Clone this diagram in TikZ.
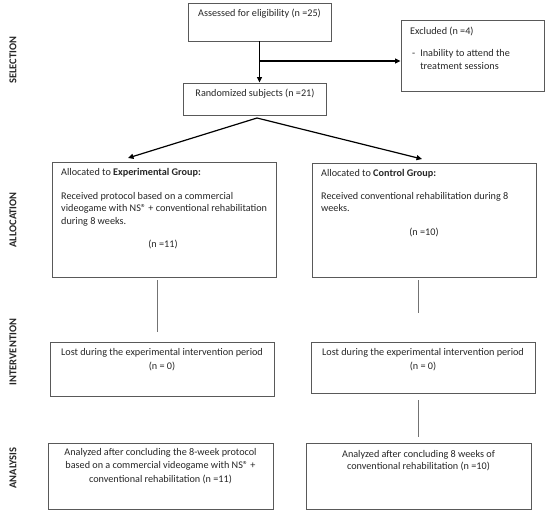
\documentclass[tikz,border=0pt]{standalone}
\usepackage{fontspec}
\setmainfont{Carlito}
\usetikzlibrary{arrows.meta}
\begin{document}
\begin{tikzpicture}[x=1pt,y=-1pt,
  box/.style={draw=black!65, line width=0.9pt, inner sep=0pt},
  txt/.style={font=\fontsize{10.2}{12.5}\selectfont, inner sep=0pt, text=black!85, align=left},
  ctxt/.style={txt, align=center},
  side/.style={font=\fontsize{10.5}{11}\selectfont\bfseries, rotate=90, text=black!85, inner sep=0pt},
  arr/.style={line width=1.2pt, -{Triangle[length=5.5pt,width=5pt]}},
  ln/.style={draw=black!55, line width=0.9pt}]
\useasboundingbox (0,0) rectangle (550,515);
% side labels
\node[side] (sSel) at (13,60) {SELECTION};
\node[side] (sAll) at (13,220) {ALLOCATION};
\node[side] (sInt) at (13,352) {INTERVENTION};
\node[side] (sAna) at (13,468) {ANALYSIS};
% boxes
\node[box, minimum width=143pt, minimum height=38pt] (assess) at (259.5,22) {};
\node[box, minimum width=143pt, minimum height=71pt] (excl) at (472.5,55.5) {};
\node[box, minimum width=143pt, minimum height=32pt] (rand) at (254.5,99) {};
\node[box, minimum width=224pt, minimum height=115pt] (la) at (164,219.5) {};
\node[box, minimum width=224pt, minimum height=114pt] (ra) at (424,220) {};
\node[box, minimum width=224pt, minimum height=54pt] (li) at (162,369) {};
\node[box, minimum width=224pt, minimum height=51pt] (ri) at (423,367.5) {};
\node[box, minimum width=225pt, minimum height=66pt] (lan) at (160.5,476) {};
\node[box, minimum width=225pt, minimum height=66pt] (ran) at (418.5,476) {};
% texts
\node[ctxt, anchor=north] (tAssess) at (259.5,9) {Assessed for eligibility (n =25)};
\node[txt, anchor=north west] (tExcl) at (410,27) {Excluded (n =4)};
\node[txt, anchor=north west] (tExcl2) at (412,48) {\begin{tabular}{@{}l@{\hspace{5pt}}l@{}}-&Inability to attend the\\&treatment sessions\end{tabular}};
\node[ctxt, anchor=north] (tRand) at (255,89) {Randomized subjects (n =21)};
\node[txt, anchor=north west] (tLa1) at (61,168) {Allocated to \textbf{Experimental Group:}};
\node[txt, anchor=north west] (tLa2) at (61,192) {Received protocol based on a commercial\\videogame with NS® + conventional rehabilitation\\during 8 weeks.};
\node[ctxt, anchor=north] (tLa3) at (163,240) {(n =11)};
\node[txt, anchor=north west] (tRa1) at (321,169) {Allocated to \textbf{Control Group:}};
\node[txt, anchor=north west] (tRa2) at (321,192) {Received conventional rehabilitation during 8\\weeks.};
\node[ctxt, anchor=north] (tRa3) at (424,228) {(n =10)};
\node[ctxt, anchor=north, font=\fontsize{10.2}{14}\selectfont] (tLi) at (162,348) {Lost during the experimental intervention period\\(n = 0)};
\node[ctxt, anchor=north, font=\fontsize{10.2}{14}\selectfont] (tRi) at (423,348) {Lost during the experimental intervention period\\(n = 0)};
\node[ctxt, anchor=north, font=\fontsize{10.2}{13.5}\selectfont] (tLan) at (160.5,448) {Analyzed after concluding the 8-week protocol\\based on a commercial videogame with NS® +\\conventional rehabilitation (n =11)};
\node[ctxt, anchor=north, font=\fontsize{10.2}{12.5}\selectfont] (tRan) at (418.5,450) {Analyzed after concluding 8 weeks of\\conventional rehabilitation (n =10)};
% connectors
\draw[arr] (assess.south) -- (assess.south |- rand.north);
\coordinate (branch) at (259,61);
\draw[arr] (branch) -- (branch -| excl.west);
\coordinate (apex) at (257,118);
\coordinate (tl) at (128,158);
\coordinate (tr) at (422,159);
\draw[arr] (apex) -- (tl);
\draw[arr] (apex) -- (tr);
\coordinate (l1a) at (157,280);
\coordinate (l1b) at (157,332);
\coordinate (r1a) at (418,280);
\coordinate (r1b) at (418,313);
\coordinate (r2a) at (418,400);
\coordinate (r2b) at (418,437);
\draw[ln] (l1a) -- (l1b);
\draw[ln] (r1a) -- (r1b);
\draw[ln] (r2a) -- (r2b);
\end{tikzpicture}
\end{document}
